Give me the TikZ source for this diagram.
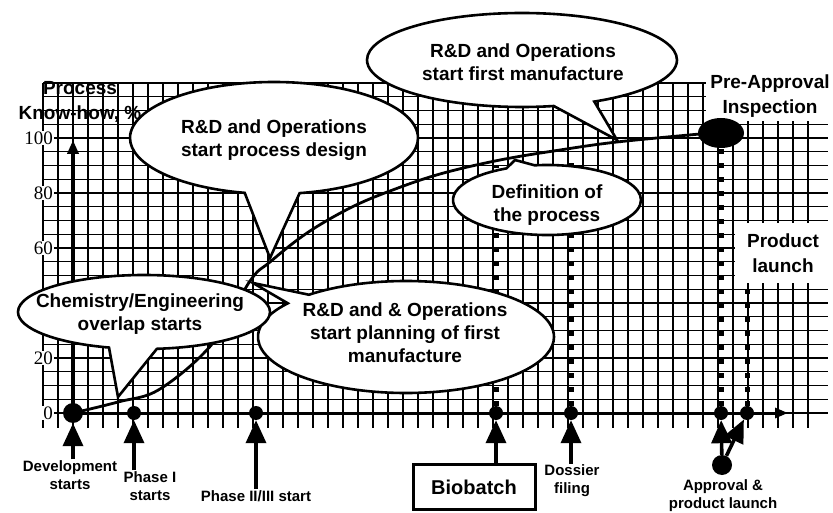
\documentclass[tikz,border=0pt]{standalone}
\usepackage{fontspec}
\setmainfont{Liberation Serif}
\setsansfont{Liberation Sans}
\usetikzlibrary{shapes.callouts,shapes.geometric,arrows.meta}

\begin{document}
\begin{tikzpicture}[x=1pt, y=-1pt,
  bubble/.style={ellipse callout, draw, fill=white, line width=2.6pt, callout pointer arc=22, inner sep=0pt},
  bubbletext/.style={font=\sffamily\bfseries\fontsize{19}{23}\selectfont, align=center},
  big/.style={font=\sffamily\bfseries\fontsize{19}{25}\selectfont, align=center},
  lbl/.style={font=\sffamily\bfseries\fontsize{15}{18}\selectfont, align=center, inner sep=1pt},
  num/.style={font=\fontsize{19}{19}\selectfont, anchor=east, fill=white, inner sep=1pt},
  dot/.style={circle, fill, inner sep=0pt, minimum size=14pt},
  bigdot/.style={circle, fill, inner sep=0pt, minimum size=20pt},
  up/.style={-{Triangle[width=20pt,length=23pt]}, line width=3.6pt},
  squares/.style={line width=5pt, dash pattern=on 5pt off 9pt}]
\useasboundingbox (0,0) rectangle (833,513);

%grid:
\foreach \k in {0,...,24} {
	\draw[line width=1.4pt] (43, 413-13.75*\k) -- (828, 413-13.75*\k);
}
\foreach \k in {0,...,51} {
	\draw[line width=1.4pt] (43+15*\k, 83) -- (43+15*\k, 428);
}

%axis:
\draw[line width=3pt, -{Triangle[length=13pt,width=10pt]}] (73,413) -- (788,413);
\draw[line width=4pt, -{Triangle[length=14pt,width=11pt]}] (73,413) -- (73,140);
\foreach \v in {20,40,60,80} {
	\draw[line width=2.5pt] (73, 413-2.75*\v) -- (82, 413-2.75*\v);
}
%y-axis labels (40 is hidden by a bubble):
\foreach \v in {0,20,60,80,100} {
	\node[num] (tick\v) at (54, 413-2.75*\v) {\v};
}
\node[big] (knowhow) at (80,102) {Process\\Know-how, \%};

%know-how curve:
\draw[line width=2.8pt] plot[smooth, tension=0.6] coordinates {(73,413) (118,402) (160,389) (213,343) (250,281) (270,262) (307,233) (350,208) (390,191) (440,174) (500,160) (560,150) (617,142) (700,134)};

%milestones on the time axis:
\node[bigdot] (dev) at (73,413) {};
\node[dot] (ph1) at (134,413) {};
\node[dot] (ph2) at (256,413) {};
\node[dot] (bio) at (496,413) {};
\node[dot] (dos) at (571,413) {};
\node[dot] (appr) at (721,413) {};
\node[dot] (launch) at (747,413) {};

\node[big, fill=white, inner sep=4pt] (pai label) at (770,96) {Pre-Approval\\Inspection};
\node[ellipse, fill, minimum width=46, minimum height=30, inner sep=0pt] (pai) at (721,133) {};

%dotted lines:
\draw[squares] (bio) -- (496,165);
\draw[squares] (dos) -- (571,160);
\draw[squares] (appr) -- (pai);
\draw[squares] (launch) -- (747,284);

%bubbles:
\coordinate (design tip) at (270,258);
\coordinate (manuf tip) at (617,140);
\coordinate (defin tip) at (515,160);
\coordinate (plan tip) at (253,283);
\coordinate (chem tip) at (118,397);
\node[bubble, minimum width=288, minimum height=112, callout absolute pointer={(design tip)}] (design) at (274,138) {};
\node[bubbletext] (design text) at (274,140) {R\&D and Operations\\start process design};
\node[bubble, minimum width=310, minimum height=94, callout pointer arc=16, callout absolute pointer={(manuf tip)}] (manuf) at (522,60) {};
\node[bubbletext] (manuf text) at (523,62) {R\&D and Operations\\start first manufacture};
\node[bubble, minimum width=188, minimum height=70, callout pointer arc=18, callout absolute pointer={(defin tip)}] (defin) at (547,200) {};
\node[bubbletext] (defin text) at (547,205) {Definition of\\the process};
\node[bubble, minimum width=296, minimum height=112, callout pointer arc=12, callout absolute pointer={(plan tip)}] (plan) at (406,337) {};
\node[bubbletext] (plan text) at (405,333) {R\&D and \& Operations\\start planning of first\\manufacture};
\node[bubble, minimum width=252, minimum height=74, callout absolute pointer={(chem tip)}] (chem) at (144,312) {};
\node[bubbletext] (chem text) at (140,314) {Chemistry/Engineering\\overlap starts};

\node[big, fill=white, minimum width=96, minimum height=60] (product) at (783,253) {Product\\launch};

%labels and arrows below the axis:
\node[lbl] (dev label) at (70,475) {Development\\starts};
\node[lbl] (ph1 label) at (150,486) {Phase I\\starts};
\node[lbl] (ph2 label) at (256,496) {Phase II/III start};
\node[draw, line width=3pt, minimum width=122, minimum height=45, font=\sffamily\bfseries\fontsize{20}{20}\selectfont] (biobatch) at (474,487) {Biobatch};
\node[lbl] (dos label) at (572,481) {Dossier\\filing};
\node[bigdot] (appr src) at (722,465) {};
\node[lbl] (appr label) at (723,496) {Approval \&\\product launch};

\draw[up] (dev label.north -| dev) -- (dev);
\draw[up] (ph1 label.north -| ph1) -- (ph1);
\draw[up] (ph2 label) -- (ph2);
\draw[up] (biobatch.north -| bio) -- (bio);
\draw[up] (dos label.north -| dos) -- (dos);
\draw[up] (appr src) -- (appr);
\draw[up] (appr src) -- (launch);
\end{tikzpicture}
\end{document}
